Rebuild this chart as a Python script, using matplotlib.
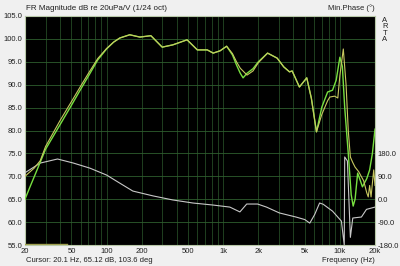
import numpy as np
import matplotlib
matplotlib.use("Agg")
import matplotlib.pyplot as plt
from matplotlib.ticker import FixedLocator, NullFormatter

# ---- data ----
green_f = [20, 22, 25, 30, 40, 50, 60, 70, 84, 100, 115, 130, 158, 193, 240, 300, 370, 490, 600, 730,
           820, 940, 1070, 1200, 1300, 1400, 1480, 1600, 1800, 2000, 2400, 2900, 3300, 3700, 3900,
           4500, 5200, 5700, 6300, 7000, 7850, 8650, 9300, 10000, 10500, 11000, 11800, 12500,
           13000, 13500, 14200, 15000, 15600, 17000, 18000, 19000, 20000]
green_db = [65.0, 67.6, 71.0, 75.9, 81.3, 85.5, 89.0, 91.9, 95.4, 97.8, 99.3, 100.2, 100.9, 100.4, 100.7,
            98.2, 98.7, 99.8, 97.6, 97.6, 96.9, 97.4, 98.4, 96.5, 94.3, 92.5, 91.5, 92.5, 93.5,
            95.0, 96.9, 95.8, 93.9, 92.8, 93.0, 89.5, 91.5, 87.0, 79.7, 85.1, 88.4, 88.8, 91.0,
            96.0, 94.0, 85.0, 75.0, 66.0, 63.5, 65.0, 70.7, 69.0, 67.7, 69.5, 71.4, 75.0, 80.3]

yellow_f = [20, 24, 27, 30, 40, 50, 60, 70, 84, 100, 115, 130, 158, 193, 240, 300, 370, 490, 600, 730,
            820, 940, 1070, 1200, 1300, 1400, 1600, 1800, 2000, 2400, 2900, 3300, 3700, 3900,
            4500, 5200, 5700, 6300, 7000, 7850, 8200, 9000, 9600, 10000, 10700, 11300, 11800,
            12300, 12900, 13500, 14500, 16000, 17000, 17500, 18000, 18500, 19500, 20000]
yellow_db = [70.0, 71.8, 73.4, 76.5, 82.2, 86.3, 89.7, 92.5, 95.7, 97.9, 99.3, 100.2, 100.9, 100.4, 100.7,
             98.2, 98.7, 99.8, 97.6, 97.6, 96.9, 97.4, 98.4, 96.8, 95.0, 93.6, 92.1, 93.0,
             94.8, 96.9, 95.8, 93.9, 92.8, 93.0, 89.5, 91.5, 87.0, 79.7, 83.5, 86.5, 87.3,
             87.5, 87.1, 92.0, 97.8, 90.0, 80.0, 74.2, 73.0, 72.0, 71.0, 69.0, 66.4, 65.5,
             68.0, 65.5, 71.4, 68.0]

phase_f = [20, 27, 38, 52, 72, 100, 130, 168, 250, 370, 550, 820, 1140, 1390, 1590, 1970, 2350,
           3030, 4200, 5000, 5520, 6070, 6700, 7200, 8650, 10300, 10900, 11000, 11600, 12300,
           12900, 15300, 16900, 20000]
phase_deg = [104, 142, 158, 142, 122, 95, 63, 32, 13, -3, -15, -23, -31, -50, -19, -19, -31,
             -54, -70, -80, -94, -61, -15, -20, -47, -86, -180, 166, 150, -150,
             -74, -70, -40, -31]

marker_f = [20, 46]
marker_db = [55.3, 55.3]

xtick_vals = [20, 50, 100, 200, 500, 1000, 2000, 5000, 10000, 20000]
xtick_labels = ["20", "50", "100", "200", "500", "1k", "2k", "5k", "10k", "20k"]
ytick_vals = [55, 60, 65, 70, 75, 80, 85, 90, 95, 100, 105]
ptick_vals = [-180, -90, 0, 90, 180]

# ---- figure ----
plt.rcParams['font.family'] = ['Liberation Sans', 'DejaVu Sans']
fs = 5.5
fig = plt.figure(figsize=(4.0, 2.66), dpi=100, facecolor='#f0f0f0')
ax = fig.add_axes([25/400, 1-245/266, 350/400, 229/266])
ax.set_facecolor('black')
ax.set_xscale('log')
ax.set_xlim(20, 20000)
ax.set_ylim(55, 105)

# grid
minor = []
for dec in [10, 100, 1000, 10000]:
    for m in range(1, 10):
        v = dec * m
        if 20 <= v <= 20000:
            minor.append(v)
for v in minor:
    ax.axvline(v, color='#244a24', lw=0.6, zorder=0)
for v in ytick_vals:
    ax.axhline(v, color='#2e5e2e', lw=0.6, zorder=0)

ax.xaxis.set_major_locator(FixedLocator(xtick_vals))
ax.set_xticklabels(xtick_labels)
ax.xaxis.set_minor_formatter(NullFormatter())
ax.xaxis.set_minor_locator(FixedLocator([]))
ax.set_yticks(ytick_vals)
ax.set_yticklabels([f"{v:.1f}" for v in ytick_vals])
ax.tick_params(axis='both', labelsize=fs, length=0, pad=2, colors='#202020')

for s in ax.spines.values():
    s.set_color('#b8c8a8')
    s.set_linewidth(0.8)

ax.plot(marker_f, marker_db, color='#a0a050', lw=1.0, zorder=3)

ax2 = ax.twinx()
ax2.set_ylim(-180, 720)
ax2.set_yticks(ptick_vals)
ax2.set_yticklabels([f"{v:.1f}" for v in ptick_vals])
ax2.tick_params(axis='y', labelsize=fs, length=0, pad=2, colors='#202020')
for s in ax2.spines.values():
    s.set_visible(False)
ax2.plot(phase_f, phase_deg, color='#c8c8c8', lw=0.8, zorder=2)

ax2.plot(green_f, (np.array(green_db) - 65) * 18, color='#78e040', lw=1.0, zorder=3)
ax2.plot(yellow_f, (np.array(yellow_db) - 65) * 18, color='#c8c860', lw=0.8, zorder=4)

fig.text(26/400, 1-8/266, "FR Magnitude dB re 20uPa/V (1/24 oct)", fontsize=fs+0.3, va='center', ha='left', color='#202020')
fig.text(375/400, 1-8/266, "Min.Phase (°)", fontsize=fs, va='center', ha='right', color='#202020')
fig.text(26/400, 1-261/266, "Cursor: 20.1 Hz, 65.12 dB, 103.6 deg", fontsize=fs, va='center', ha='left', color='#202020')
fig.text(375/400, 1-261/266, "Frequency (Hz)", fontsize=fs, va='center', ha='right', color='#202020')
fig.text(385/400, 1-30/266, "A\nR\nT\nA", fontsize=fs, va='center', ha='center', color='#202020', linespacing=0.9)

fig.savefig('out.png', dpi=100, facecolor=fig.get_facecolor())
